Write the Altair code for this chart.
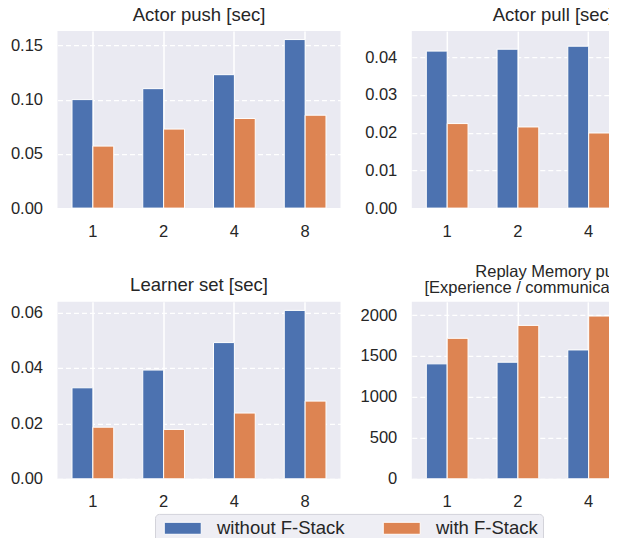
import altair as alt
import pandas as pd

threads = ["1", "2", "4", "8"]
series = ["without F-Stack", "with F-Stack"]
colors = ["#4C72B0", "#DD8452"]

push_without = [0.1001, 0.1102, 0.1231, 0.1555]
push_with = [0.0572, 0.0729, 0.0827, 0.0857]
pull_without = [0.0416, 0.0421, 0.0429]
pull_with = [0.0224, 0.0215, 0.0199]
learner_without = [0.0328, 0.0392, 0.0491, 0.0607]
learner_with = [0.0186, 0.0178, 0.0237, 0.0280]
replay_without = [1404, 1424, 1574]
replay_with = [1716, 1874, 1988]

FONT = "Liberation Sans"
TXT = "#262626"


def panel(title, without, with_, ymax, ticks, fmt, tsize=18.5, lh=None):
    n = len(without)
    df = pd.DataFrame({
        "threads": threads[:n] * 2,
        "series": [series[0]] * n + [series[1]] * n,
        "value": list(without) + list(with_),
    })
    tkw = dict(text=title, fontSize=tsize, fontWeight="normal", anchor="middle",
               offset=-8, baseline="alphabetic", frame="group", color=TXT, font=FONT)
    if lh:
        tkw["lineHeight"] = lh
    return alt.Chart(df, title=alt.Title(**tkw)).mark_bar(
        stroke="white", strokeWidth=1
    ).encode(
        x=alt.X("threads:N", sort=threads,
                scale=alt.Scale(domain=threads, paddingInner=0.41, paddingOuter=0.205),
                axis=alt.Axis(title=None, labelAngle=0, grid=True, gridDash=[],
                              gridColor="white", gridWidth=1.5, bandPosition=0.5,
                              ticks=False, domain=False, labelPadding=15)),
        xOffset=alt.XOffset("series:N", sort=series,
                            scale=alt.Scale(domain=series, paddingInner=0, paddingOuter=0)),
        y=alt.Y("value:Q", scale=alt.Scale(domain=[0, ymax], nice=False, zero=True),
                axis=alt.Axis(title=None, values=ticks, format=fmt,
                              gridDash=[5, 3], gridColor="white",
                              gridWidth=1.2, ticks=False, domain=False,
                              labelPadding=15)),
        color=alt.Color("series:N", sort=series,
                        scale=alt.Scale(domain=series, range=colors),
                        legend=alt.Legend(title=None)),
    ).properties(width=283, height=177)


p1 = panel("Actor push [sec]", push_without, push_with, 0.1633, [0, 0.05, 0.10, 0.15], ".2f")
p2 = panel("Actor pull [sec]", pull_without, pull_with, 0.0469, [0, 0.01, 0.02, 0.03, 0.04], ".2f")
p3 = panel("Learner set [sec]", learner_without, learner_with, 0.0638, [0, 0.02, 0.04, 0.06], ".2f")
p4 = panel(["Replay Memory push",
            "[Experience / communication]" + "\u00a0" * 9 + "\u200b"],
           replay_without, replay_with, 2162, [0, 500, 1000, 1500, 2000], "d",
           tsize=16.5, lh=16)

svg_w, svg_h = 601, 530
pl, pt = 49.5, 23.1

chart = alt.concat(
    p1, p2, p3, p4, columns=2, bounds="flush",
    spacing=alt.RowColnumber(row=93.7, column=71.3),
).properties(
    autosize=alt.AutoSizeParams(type="none"),
    padding={"left": pl, "top": pt, "right": svg_w - pl, "bottom": svg_h - pt},
    background="white",
).configure_view(
    fill="#EAEAF2", strokeWidth=0
).configure_axis(
    labelFont=FONT, labelFontSize=16.5, labelColor=TXT
).configure_legend(
    orient="none", legendX=97.5, legendY=482.8, direction="horizontal",
    labelFont=FONT, labelFontSize=18.5, labelColor=TXT, labelOffset=25,
    columnPadding=34, padding=5, fillColor="#EEEEF4", strokeColor="#D3D3DA",
    cornerRadius=4, symbolType="M-2.5,-0.81H2.5V0.81H-2.5Z", symbolSize=219,
    symbolOffset=13.5, symbolStrokeWidth=1, symbolStrokeColor="white",
    symbolOpacity=1, labelLimit=400
)

chart.save("out.html", embed_options={"renderer": "svg", "actions": False})
